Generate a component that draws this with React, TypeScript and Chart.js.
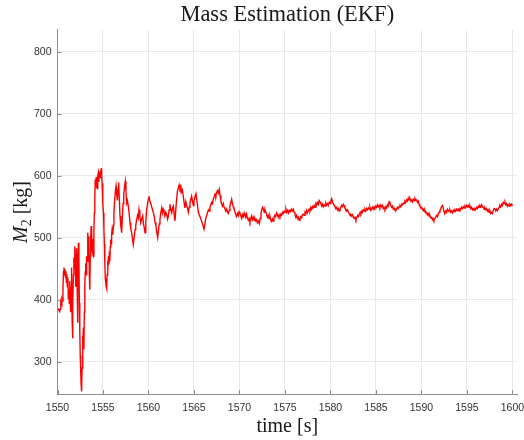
import React, { useEffect, useRef } from "react";
import { Chart, registerables } from "chart.js";

Chart.register(...registerables);

const TITLE = "Mass Estimation (EKF)";
const X_TITLE = "time [s]";
const Y_SYMBOL = "M";
const Y_SUBSCRIPT = "2";
const Y_UNIT = " [kg]";

const X_MIN = 1550;
const X_MAX = 1600.5;
const X_TICK_STEP = 5;
const Y_MIN = 248;
const Y_MAX = 835;
const Y_TICK_STEP = 100;

const transientTime = [
  1550.0, 1550.08, 1550.16, 1550.24, 1550.3, 1550.36, 1550.42, 1550.48, 1550.54, 1550.6,
  1550.66, 1550.71, 1550.76, 1550.82, 1550.88, 1550.93, 1550.98, 1551.03, 1551.08, 1551.14,
  1551.19, 1551.24, 1551.3, 1551.35, 1551.4, 1551.45, 1551.5, 1551.55, 1551.6, 1551.65,
  1551.7, 1551.75, 1551.8, 1551.85, 1551.9, 1551.95, 1552.0, 1552.05, 1552.1, 1552.15,
  1552.2, 1552.25, 1552.3, 1552.35, 1552.4, 1552.45, 1552.5, 1552.55, 1552.6, 1552.65,
  1552.7, 1552.75, 1552.8, 1552.85, 1552.9, 1552.95, 1553.0, 1553.05, 1553.1, 1553.15,
  1553.2, 1553.25, 1553.3, 1553.35, 1553.4, 1553.45, 1553.5, 1553.55, 1553.6, 1553.65,
  1553.7, 1553.75, 1553.8, 1553.85, 1553.9, 1553.95, 1554.0, 1554.05, 1554.1, 1554.15,
  1554.2, 1554.25, 1554.3, 1554.35, 1554.4, 1554.45, 1554.5, 1554.55, 1554.6, 1554.65,
  1554.7, 1554.75, 1554.8, 1554.85, 1554.9, 1554.95, 1555.0, 1555.05, 1555.1, 1555.15,
  1555.2, 1555.25, 1555.3, 1555.35, 1555.4, 1555.45, 1555.5, 1555.55, 1555.6, 1555.65,
  1555.7, 1555.75, 1555.8, 1555.85, 1555.9, 1555.95,
];
const transientMass = [
  386, 385, 383, 381, 385, 394, 390, 401, 398, 420,
  445, 452, 440, 449, 436, 446, 428, 441, 421, 436,
  402, 416, 394, 430, 405, 380, 420, 452, 372, 338,
  395, 440, 468, 452, 486, 470, 421, 460, 483, 430,
  363, 450, 492, 470, 395, 350, 310, 285, 262, 252,
  290, 341, 330, 355, 320, 380, 420, 445, 459, 440,
  470, 462, 482, 508, 490, 502, 440, 416, 470, 500,
  519, 505, 480, 475, 498, 470, 510, 540, 565, 594,
  585, 598, 580, 590, 578, 600, 605, 590, 603, 597,
  608, 596, 612, 600, 588, 575, 556, 540, 514, 490,
  460, 435, 428, 421, 418, 440, 463, 450, 470, 457,
  478, 462, 485, 497, 490, 505,
];

const settlingTime = [
  1556.0, 1556.08, 1556.14, 1556.2, 1556.28, 1556.36, 1556.43, 1556.5, 1556.58, 1556.65,
  1556.72, 1556.8, 1556.87, 1556.95, 1557.05, 1557.12, 1557.2, 1557.28, 1557.36, 1557.45,
  1557.52, 1557.6, 1557.68, 1557.78, 1557.87, 1557.97, 1558.05, 1558.15, 1558.24, 1558.33,
  1558.42, 1558.52, 1558.6, 1558.7, 1558.8, 1558.88, 1558.96, 1559.05, 1559.14, 1559.25,
  1559.36, 1559.45, 1559.55, 1559.62, 1559.7, 1559.8, 1559.9, 1559.98, 1560.05, 1560.14,
  1560.24, 1560.35, 1560.45, 1560.53, 1560.62, 1560.72, 1560.82, 1560.92, 1561.01, 1561.1,
  1561.18, 1561.26, 1561.35, 1561.45, 1561.55, 1561.62, 1561.7, 1561.8, 1561.9, 1562.0,
  1562.1, 1562.18, 1562.27, 1562.36, 1562.45, 1562.55, 1562.64, 1562.73, 1562.82, 1562.91,
  1563.0, 1563.09, 1563.18, 1563.28,
];
const settlingMass = [
  513, 505, 520, 540, 560, 575, 583, 570, 560, 578,
  589, 560, 535, 520, 508, 530, 555, 570, 582, 591,
  575, 556, 560, 551, 540, 524, 515, 508, 498, 489,
  500, 513, 520, 529, 536, 532, 545, 535, 524, 530,
  535, 522, 515, 508, 525, 545, 555, 562, 567, 560,
  556, 550, 545, 540, 535, 525, 519, 508, 500, 512,
  522, 529, 540, 548, 540, 546, 543, 535, 541, 538,
  530, 535, 545, 554, 545, 540, 548, 551, 538, 527,
  545, 562, 575, 580,
];

const steadyTime = [
  1563.37, 1563.46, 1563.55, 1563.64, 1563.73, 1563.83, 1563.92, 1564.0, 1564.1, 1564.19,
  1564.28, 1564.38, 1564.47, 1564.56, 1564.65, 1564.74, 1564.84, 1564.93, 1565.0, 1565.11,
  1565.22, 1565.35, 1565.48, 1565.6, 1565.72, 1565.84, 1565.97, 1566.1, 1566.2, 1566.3,
  1566.39, 1566.5, 1566.6, 1566.68, 1566.76, 1566.85, 1566.94, 1567.03, 1567.12, 1567.22,
  1567.31, 1567.4, 1567.49, 1567.58, 1567.68, 1567.78, 1567.86, 1567.95, 1568.04, 1568.13,
  1568.22, 1568.31, 1568.4, 1568.5, 1568.59, 1568.68, 1568.77, 1568.86, 1568.95, 1569.05,
  1569.14, 1569.22, 1569.31, 1569.39, 1569.48, 1569.58, 1569.69, 1569.78, 1569.87, 1569.96,
  1570.05, 1570.15, 1570.24, 1570.33, 1570.42, 1570.51, 1570.6, 1570.69, 1570.78, 1570.87,
  1570.97, 1571.06, 1571.15, 1571.24, 1571.33, 1571.42, 1571.52, 1571.61, 1571.7, 1571.79,
  1571.88, 1571.97, 1572.08, 1572.18, 1572.27, 1572.36, 1572.45, 1572.54, 1572.63, 1572.72,
  1572.8, 1572.9, 1572.99, 1573.08, 1573.17, 1573.26, 1573.35, 1573.44, 1573.53, 1573.62,
  1573.7, 1573.79, 1573.88, 1573.98, 1574.08, 1574.17, 1574.26, 1574.36, 1574.45, 1574.54,
  1574.63, 1574.72, 1574.82, 1574.92, 1575.01, 1575.11, 1575.2, 1575.3, 1575.39, 1575.48,
  1575.58, 1575.7, 1575.81, 1575.92, 1576.01, 1576.1, 1576.19, 1576.28, 1576.37, 1576.46,
  1576.56, 1576.65, 1576.74, 1576.83, 1576.92, 1577.01, 1577.1, 1577.2, 1577.29, 1577.38,
  1577.47, 1577.56, 1577.66, 1577.75, 1577.84, 1577.93, 1578.02, 1578.11, 1578.2, 1578.3,
  1578.39, 1578.48, 1578.57, 1578.66, 1578.76, 1578.85, 1578.94, 1579.03, 1579.12, 1579.21,
  1579.3, 1579.4, 1579.49, 1579.58, 1579.67, 1579.76, 1579.86, 1579.95, 1580.04, 1580.13,
  1580.22, 1580.31, 1580.4, 1580.49, 1580.58, 1580.68, 1580.77, 1580.86, 1580.95, 1581.04,
  1581.14, 1581.23, 1581.32, 1581.41, 1581.5, 1581.59, 1581.68, 1581.78, 1581.87, 1581.96,
  1582.05, 1582.14, 1582.23, 1582.32, 1582.42, 1582.51, 1582.6, 1582.7, 1582.8, 1582.9,
  1582.99, 1583.08, 1583.17, 1583.26, 1583.34, 1583.42, 1583.51, 1583.6, 1583.7, 1583.79,
  1583.88, 1583.97, 1584.06, 1584.16, 1584.25, 1584.34, 1584.43, 1584.52, 1584.61, 1584.7,
  1584.8, 1584.89, 1584.98, 1585.07, 1585.16, 1585.25, 1585.34, 1585.44, 1585.53, 1585.62,
  1585.71, 1585.8, 1585.89, 1585.99, 1586.08, 1586.17, 1586.26, 1586.35, 1586.45, 1586.54,
  1586.63, 1586.72, 1586.81, 1586.9, 1586.99, 1587.08, 1587.18, 1587.27, 1587.36, 1587.45,
  1587.54, 1587.64, 1587.73, 1587.82, 1587.91, 1588.0, 1588.09, 1588.18, 1588.28, 1588.37,
  1588.46, 1588.55, 1588.64, 1588.74, 1588.83, 1588.92, 1589.01, 1589.1, 1589.19, 1589.28,
  1589.37, 1589.47, 1589.56, 1589.65, 1589.74, 1589.83, 1589.93, 1590.02, 1590.11, 1590.2,
  1590.29, 1590.38, 1590.47, 1590.56, 1590.65, 1590.75, 1590.84, 1590.93, 1591.02, 1591.12,
  1591.2, 1591.28, 1591.37, 1591.46, 1591.56, 1591.67, 1591.76, 1591.85, 1591.94, 1592.03,
  1592.12, 1592.2, 1592.33, 1592.42, 1592.5, 1592.58, 1592.67, 1592.76, 1592.86, 1592.95,
  1593.04, 1593.13, 1593.22, 1593.32, 1593.41, 1593.5, 1593.59, 1593.68, 1593.77, 1593.86,
  1593.96, 1594.05, 1594.14, 1594.23, 1594.32, 1594.41, 1594.5, 1594.6, 1594.69, 1594.78,
  1594.87, 1594.96, 1595.06, 1595.15, 1595.24, 1595.33, 1595.42, 1595.51, 1595.6, 1595.7,
  1595.79, 1595.88, 1595.97, 1596.06, 1596.16, 1596.25, 1596.34, 1596.43, 1596.52, 1596.61,
  1596.7, 1596.8, 1596.89, 1596.98, 1597.07, 1597.16, 1597.25, 1597.34, 1597.43, 1597.53,
  1597.62, 1597.71, 1597.8, 1597.89, 1597.98, 1598.08, 1598.17, 1598.26, 1598.35, 1598.44,
  1598.53, 1598.62, 1598.72, 1598.81, 1598.9, 1598.99, 1599.08, 1599.18, 1599.27, 1599.36,
  1599.45, 1599.54, 1599.63, 1599.72, 1599.82, 1599.91, 1600.0,
];
const steadyMass = [
  585, 579, 583, 574, 577, 566, 556, 548, 558, 552,
  548, 541, 549, 556, 562, 567, 558, 552, 559, 566,
  571, 556, 541, 536, 532, 526, 521, 514, 522, 531,
  536, 541, 545, 543, 549, 553, 557, 555, 562, 566,
  570, 567, 573, 576, 572, 578, 568, 560, 554, 551,
  555, 549, 547, 543, 546, 541, 539, 544, 552, 557,
  562, 555, 550, 547, 543, 538, 534, 539, 536, 542,
  539, 535, 531, 537, 534, 540, 536, 533, 538, 532,
  528, 531, 526, 531, 535, 529, 533, 528, 531, 527,
  529, 524, 527, 523, 531, 539, 545, 549, 546, 541,
  545, 541, 537, 533, 536, 531, 534, 528, 526, 530,
  527, 533, 536, 534, 540, 537, 533, 537, 534, 538,
  536, 541, 539, 543, 541, 546, 541, 544, 540, 544,
  542, 546, 543, 546, 541, 538, 533, 536, 531, 533,
  528, 530, 534, 532, 537, 538, 536, 541, 539, 544,
  540, 543, 546, 544, 549, 546, 550, 548, 552, 549,
  555, 553, 557, 554, 560, 558, 555, 551, 554, 550,
  553, 551, 556, 553, 555, 552, 557, 555, 560, 563,
  558, 555, 552, 550, 547, 549, 545, 547, 543, 545,
  549, 552, 550, 554, 552, 548, 546, 543, 545, 541,
  539, 537, 538, 535, 537, 533, 531, 533, 529, 533,
  536, 534, 538, 541, 539, 543, 541, 545, 543, 546,
  543, 547, 545, 548, 546, 549, 544, 546, 549, 546,
  550, 548, 551, 549, 553, 550, 552, 549, 553, 550,
  552, 547, 549, 546, 550, 548, 553, 551, 558, 556,
  552, 549, 551, 546, 548, 545, 544, 546, 549, 547,
  550, 552, 550, 554, 553, 556, 555, 559, 557, 561,
  559, 564, 561, 563, 559, 561, 558, 562, 560, 563,
  560, 561, 557, 559, 554, 551, 548, 549, 545, 546,
  542, 544, 540, 541, 537, 539, 535, 536, 532, 533,
  529, 531, 528, 531, 533, 536, 534, 539, 541, 544,
  546, 550, 552, 546, 541, 540, 543, 541, 546, 544,
  542, 545, 541, 543, 540, 544, 542, 545, 543, 546,
  544, 546, 543, 547, 546, 549, 547, 550, 548, 551,
  549, 552, 550, 552, 549, 551, 547, 549, 545, 547,
  544, 547, 546, 549, 547, 551, 549, 552, 550, 553,
  550, 549, 546, 548, 545, 547, 543, 545, 541, 543,
  539, 541, 539, 544, 547, 546, 543, 546, 544, 546,
  549, 552, 550, 554, 552, 557, 555, 557, 553, 555,
  551, 553, 551, 554, 552, 554, 551,
];

const timeSeconds = [...transientTime, ...settlingTime, ...steadyTime];
const massKg = [...transientMass, ...settlingMass, ...steadyMass];

const SERIF = '"Liberation Serif", "DejaVu Serif", serif';
const SANS = '"Liberation Sans", Arial, sans-serif';
const AXIS_COLOR = "#8f8f8f";
const GRID_COLOR = "#e9e9e9";
const TEXT_COLOR = "#1a1a1a";
const TICK_TEXT_COLOR = "#333333";
const LINE_COLOR = "#ff0000";

export default function App() {
  const canvasRef = useRef<HTMLCanvasElement | null>(null);

  useEffect(() => {
    const canvas = canvasRef.current;
    if (!canvas) return;

    const innerTicks = {
      id: "innerTicks",
      beforeDatasetsDraw(chart: any) {
        const { ctx, chartArea, scales } = chart;
        ctx.save();
        ctx.strokeStyle = AXIS_COLOR;
        ctx.lineWidth = 1;
        ctx.beginPath();
        scales.x.ticks.forEach((_: any, i: number) => {
          const px = Math.round(scales.x.getPixelForTick(i)) + 0.5;
          ctx.moveTo(px, chartArea.bottom);
          ctx.lineTo(px, chartArea.bottom - 4);
        });
        scales.y.ticks.forEach((_: any, i: number) => {
          const py = Math.round(scales.y.getPixelForTick(i)) + 0.5;
          ctx.moveTo(chartArea.left, py);
          ctx.lineTo(chartArea.left + 4, py);
        });
        ctx.stroke();
        ctx.restore();
      },
    };

    const yTitle = {
      id: "yTitle",
      afterDraw(chart: any) {
        const { ctx, chartArea } = chart;
        const fMain = `italic 20px ${SERIF}`;
        const fSub = `14px ${SERIF}`;
        const fUnit = `20px ${SERIF}`;
        ctx.save();
        ctx.fillStyle = TEXT_COLOR;
        ctx.textBaseline = "alphabetic";
        ctx.textAlign = "left";
        ctx.font = fMain;
        const wM = ctx.measureText(Y_SYMBOL).width;
        ctx.font = fSub;
        const wS = ctx.measureText(Y_SUBSCRIPT).width;
        ctx.font = fUnit;
        const wU = ctx.measureText(Y_UNIT).width;
        const total = wM + wS + wU;
        ctx.translate(20, (chartArea.top + chartArea.bottom) / 2);
        ctx.rotate(-Math.PI / 2);
        let x = -total / 2;
        const base = 7;
        ctx.font = fMain;
        ctx.fillText(Y_SYMBOL, x, base);
        x += wM;
        ctx.font = fSub;
        ctx.fillText(Y_SUBSCRIPT, x, base + 4);
        x += wS;
        ctx.font = fUnit;
        ctx.fillText(Y_UNIT, x, base);
        ctx.restore();
      },
    };

    const points = timeSeconds.map((t, i) => ({ x: t, y: massKg[i] }));

    const chart = new Chart(canvas, {
      type: "line",
      data: {
        datasets: [
          {
            data: points,
            borderColor: LINE_COLOR,
            borderWidth: 1.4,
            pointRadius: 0,
            tension: 0,
            fill: false,
          },
        ],
      },
      options: {
        animation: false,
        responsive: false,
        maintainAspectRatio: false,
        layout: { padding: { left: 0, right: 7, top: 0, bottom: 0 } },
        plugins: {
          legend: { display: false },
          tooltip: { enabled: false },
          title: {
            display: true,
            text: TITLE,
            fullSize: false,
            color: TEXT_COLOR,
            font: { family: SERIF, size: 22.5, weight: "normal", lineHeight: 1.1 },
            padding: { top: 3, bottom: 2.2 },
          },
        },
        scales: {
          x: {
            type: "linear",
            min: X_MIN,
            max: X_MAX,
            afterFit(scale: any) {
              scale.height = 46;
              scale.paddingLeft = 0;
              scale.paddingRight = 0;
            },
            ticks: {
              stepSize: X_TICK_STEP,
              includeBounds: false,
              autoSkip: false,
              maxRotation: 0,
              padding: 8,
              color: TICK_TEXT_COLOR,
              font: { family: SANS, size: 10.5 },
              callback: (v: any) => String(v),
            },
            grid: { color: GRID_COLOR, drawTicks: false, lineWidth: 1 },
            border: { display: true, color: AXIS_COLOR, width: 1 },
            title: {
              display: true,
              text: X_TITLE,
              color: TEXT_COLOR,
              font: { family: SERIF, size: 20 },
              padding: { top: 0, bottom: 1 },
            },
          },
          y: {
            type: "linear",
            min: Y_MIN,
            max: Y_MAX,
            afterFit(scale: any) {
              scale.width = 57.5;
              scale.paddingTop = 0;
              scale.paddingBottom = 0;
            },
            ticks: {
              stepSize: Y_TICK_STEP,
              includeBounds: false,
              padding: 6,
              color: TICK_TEXT_COLOR,
              font: { family: SANS, size: 10.5 },
              callback: (v: any) => String(v),
            },
            grid: { color: GRID_COLOR, drawTicks: false, lineWidth: 1 },
            border: { display: true, color: AXIS_COLOR, width: 1 },
          },
        },
      },
      plugins: [innerTicks, yTitle],
    });

    return () => chart.destroy();
  }, []);

  return (
    <div style={{ position: "absolute", left: 0, top: 0, width: 524, height: 440, background: "#fff" }}>
      <canvas ref={canvasRef} width={524} height={440} style={{ display: "block" }} />
    </div>
  );
}
